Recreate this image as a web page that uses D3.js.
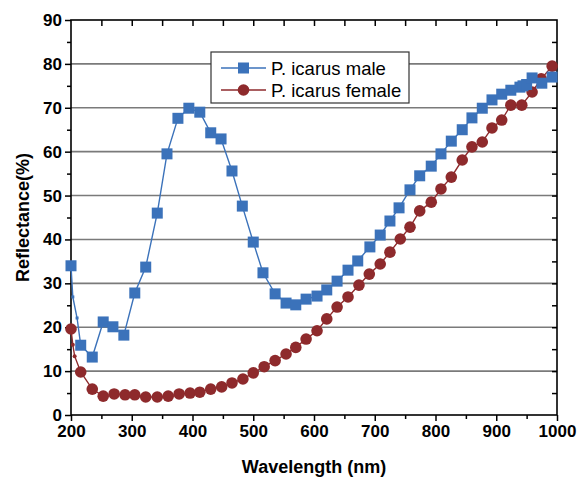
<!DOCTYPE html>
<html><head><meta charset="utf-8">
<script src="https://cdn.jsdelivr.net/npm/d3@7"></script>
<style>body{margin:0;background:#fff}svg{display:block}text{font-family:"Liberation Sans",Arial,sans-serif}</style>
</head><body>
<script>
const maleX = [200,203,210,216,235,253,269,287,305,323,342,358,376,394,412,430,447,465,482,500,516,536,554,570,587,605,621,638,656,672,692,709,725,740,758,774,793,809,826,844,860,877,893,909,924,939,944,950,959,975,992];
const maleY = [34.0,26.9,22.1,15.9,13.2,21.2,20.1,18.2,27.8,33.7,46.0,59.5,67.6,69.9,69.0,64.3,62.9,55.6,47.6,39.4,32.4,27.6,25.5,25.1,26.4,27.1,28.5,30.5,33.0,35.1,38.3,41.0,44.2,47.2,51.3,54.5,56.7,59.5,62.4,65.0,67.7,69.9,71.8,73.1,74.0,74.7,75.0,75.3,76.8,75.6,77.0];
const femaleX = [200,203,206,216,235,253,271,289,305,323,342,360,378,396,412,430,448,465,483,500,518,536,554,570,587,605,621,638,656,674,691,709,725,742,758,774,793,809,826,844,860,877,893,909,924,942,959,974,992];
const femaleY = [19.6,16.0,13.4,9.8,5.9,4.3,4.8,4.6,4.6,4.1,4.1,4.3,4.8,5.0,5.2,5.9,6.4,7.3,8.2,9.6,11.0,12.4,13.9,15.4,17.3,19.2,21.9,24.6,26.9,29.6,32.1,34.4,37.1,40.1,42.8,46.5,48.5,51.5,54.2,58.1,61.1,62.2,65.4,67.2,70.6,70.6,73.6,76.6,79.5];
const seriesNames = ["P. icarus male","P. icarus female"];
const xTicks = [200,300,400,500,600,700,800,900,1000];
const yTicks = [0,10,20,30,40,50,60,70,80,90];
const gridVals = [10,20,30,40,50,60,70,80];

(function(){
const W=577,H=477;
const blue="#3b72ba", red="#8e2a2c";
const svg=d3.select("body").append("svg").attr("width",W).attr("height",H);
const x=d3.scaleLinear().domain([200,1000]).range([71,557]);
const y=d3.scaleLinear().domain([0,90]).range([415,20]);

svg.append("g").selectAll("line").data(gridVals).join("line")
 .attr("x1",x(200)).attr("x2",x(1000)).attr("y1",d=>y(d)).attr("y2",d=>y(d))
 .attr("stroke","#7a7a7a").attr("stroke-width",1.6);

const fs="17px";
const gBottom=svg.append("g").attr("transform",`translate(0,${y(0)})`)
 .call(d3.axisBottom(x).tickValues(xTicks).tickSize(6).tickPadding(4).tickFormat(d3.format("d")));
const gBottomMinor=svg.append("g").attr("transform",`translate(0,${y(0)})`)
 .call(d3.axisBottom(x).tickValues(d3.range(250,1000,100)).tickSize(4).tickFormat(""));
const gTop=svg.append("g").attr("transform",`translate(0,${y(90)})`)
 .call(d3.axisBottom(x).tickValues(d3.range(250,1000,50)).tickSize(6).tickFormat(""));
const gLeft=svg.append("g").attr("transform",`translate(${x(200)},0)`)
 .call(d3.axisLeft(y).tickValues(yTicks).tickSize(6).tickPadding(3));
const gLeftMinor=svg.append("g").attr("transform",`translate(${x(200)},0)`)
 .call(d3.axisLeft(y).tickValues(d3.range(5,90,10)).tickSize(4).tickFormat(""));
const gRight=svg.append("g").attr("transform",`translate(${x(1000)},0)`)
 .call(d3.axisLeft(y).tickValues(d3.range(5,90,5)).tickSize(5).tickFormat(""));
[gBottom,gBottomMinor,gTop,gLeft,gLeftMinor,gRight].forEach(g=>{
  g.select(".domain").remove();
  g.selectAll("line").attr("stroke","#000").attr("stroke-width",1.5);
  g.selectAll("text").attr("font-size",fs).attr("font-weight","bold").attr("fill","#000");
});
svg.append("rect").attr("x",x(200)).attr("y",y(90)).attr("width",x(1000)-x(200)).attr("height",y(0)-y(90))
 .attr("fill","none").attr("stroke","#000").attr("stroke-width",1.6);

const male=maleX.map((d,i)=>[d,maleY[i]]);
const female=femaleX.map((d,i)=>[d,femaleY[i]]);
const line=d3.line().x(d=>x(d[0])).y(d=>y(d[1]));
svg.append("path").attr("d",line(male)).attr("fill","none").attr("stroke",blue).attr("stroke-width",1.4);
svg.append("path").attr("d",line(female)).attr("fill","none").attr("stroke",red).attr("stroke-width",1.4);
const small=(d,i)=>i>0&&d[0]<212;
svg.append("g").selectAll("circle").data(female).join("circle")
 .attr("cx",d=>x(d[0])).attr("cy",d=>y(d[1])).attr("r",(d,i)=>small(d,i)?2:5.8).attr("fill",red);
svg.append("g").selectAll("rect").data(male).join("rect")
 .attr("x",(d,i)=>x(d[0])-(small(d,i)?1.5:5.5)).attr("y",(d,i)=>y(d[1])-(small(d,i)?1.5:5.5))
 .attr("width",(d,i)=>small(d,i)?3:11).attr("height",(d,i)=>small(d,i)?3:11).attr("fill",blue);

const lg=svg.append("g");
lg.append("rect").attr("x",211).attr("y",52).attr("width",198).attr("height",51)
 .attr("fill","#fff").attr("stroke","#333").attr("stroke-width",1.2);
[[blue,"sq"],[red,"ci"]].forEach((s,i)=>{
  const yy=68+i*22;
  lg.append("line").attr("x1",221).attr("x2",266).attr("y1",yy).attr("y2",yy).attr("stroke",s[0]).attr("stroke-width",1.4);
  if(s[1]==="sq") lg.append("rect").attr("x",238).attr("y",yy-5.5).attr("width",11).attr("height",11).attr("fill",s[0]);
  else lg.append("circle").attr("cx",243.5).attr("cy",yy).attr("r",5.8).attr("fill",s[0]);
  lg.append("text").attr("x",271).attr("y",yy+6.5).attr("font-size","18.5px").attr("fill","#000").text(seriesNames[i]);
});

svg.append("text").attr("x",(x(200)+x(1000))/2).attr("y",473).attr("text-anchor","middle")
 .attr("font-size","18px").attr("font-weight","bold").text("Wavelength (nm)");
svg.append("text").attr("transform",`translate(29,${(y(0)+y(90))/2}) rotate(-90)`).attr("text-anchor","middle")
 .attr("font-size","18px").attr("font-weight","bold").text("Reflectance(%)");
})();
</script>
</body></html>
